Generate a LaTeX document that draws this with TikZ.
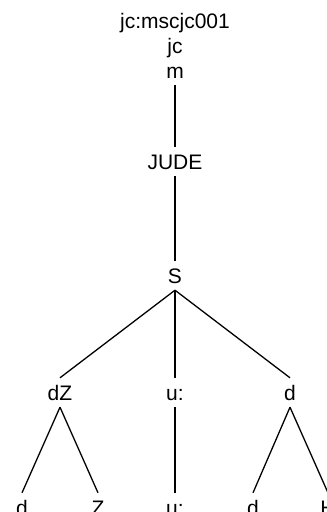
\documentclass[tikz,border=0pt]{standalone}
\usepackage{fontspec}
\setmainfont{Liberation Sans}
\begin{document}
\begin{tikzpicture}[x=1pt,y=-1pt,
  lab/.style={font=\fontsize{21}{26}\selectfont, text height=15pt, text depth=0pt, inner xsep=1pt, inner ysep=7pt},
  edge/.style={line width=1.3pt}]
\useasboundingbox (0,0) rectangle (327,512);
\clip (0,0) rectangle (327,512);
\node[font=\fontsize{21}{25}\selectfont, align=center, anchor=south, inner sep=0pt, inner ysep=6pt] (root) at (175,85) {jc:mscjc001\\jc\\m};
\node[lab] (jude) at (175,161.5) {JUDE};
\node[lab] (S) at (175,275.5) {S};
\node[lab] (dZ) at (60,392.5) {dZ};
\node[lab] (u) at (175,392.5) {u:};
\node[lab] (d) at (290,392.5) {d};
\node[lab] (d1) at (22,507.5) {d};
\node[lab] (Z1) at (98,507.5) {Z};
\node[lab] (u1) at (175,507.5) {u:};
\node[lab] (d2) at (253,507.5) {d};
\node[lab] (H) at (328,507.5) {H};
\draw[edge] (root.south) -- (jude.north);
\draw[edge] (jude.south) -- (S.north);
\draw[edge] (S.south) -- (dZ.north);
\draw[edge] (S.south) -- (u.north);
\draw[edge] (S.south) -- (d.north);
\draw[edge] (dZ.south) -- (d1.north);
\draw[edge] (dZ.south) -- (Z1.north);
\draw[edge] (u.south) -- (u1.north);
\draw[edge] (d.south) -- (d2.north);
\draw[edge] (d.south) -- (H.north);
\end{tikzpicture}
\end{document}
